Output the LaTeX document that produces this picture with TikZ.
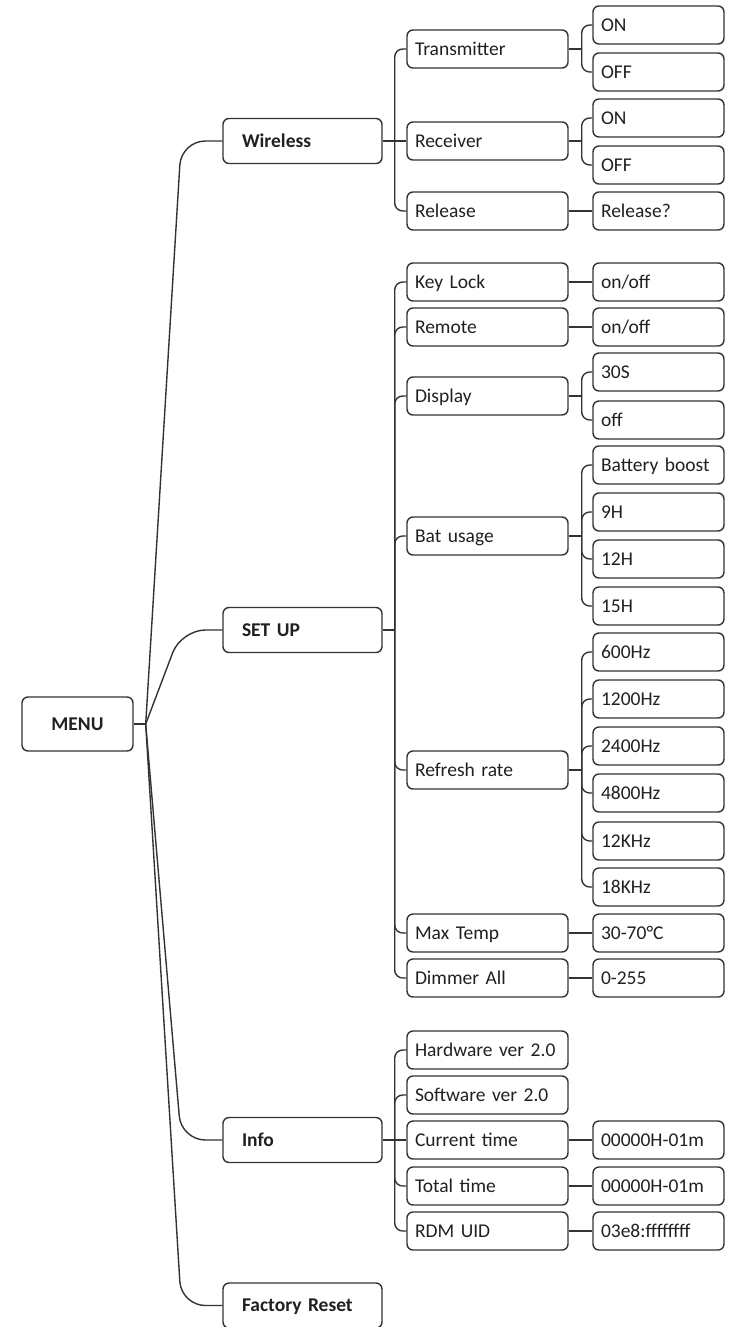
\documentclass[tikz,border=0pt]{standalone}
\usepackage{fontspec}
\setmainfont{Carlito}
\definecolor{ink}{HTML}{333333}
\definecolor{txt}{HTML}{231F20}
\tikzset{
  bx/.style={draw=ink, line width=1.4pt, rounded corners=6pt, text=txt,
    text height=12.8pt, text depth=0pt, font=\fontsize{19.5}{22}\selectfont},
  l0/.style={bx, minimum width=111pt, minimum height=54pt, inner sep=0pt, align=center,
    font=\fontsize{19.5}{22}\selectfont\bfseries},
  l1/.style={bx, text width=121pt, inner xsep=19pt, inner ysep=0pt, minimum height=45pt, align=left,
    font=\fontsize{19.5}{22}\selectfont\bfseries},
  l2/.style={bx, text width=145pt, inner xsep=8pt, inner ysep=0pt, minimum height=38pt, align=left},
  l3/.style={bx, text width=115pt, inner xsep=8pt, inner ysep=0pt, minimum height=38pt, align=left},
  ln/.style={draw=ink, line width=1.4pt},
  br/.style={ln, rounded corners=8pt},
  cv/.style={ln, rounded corners=24pt},
}
\begin{document}
\begin{tikzpicture}[x=1pt,y=-1pt]
\useasboundingbox (0,0) rectangle (740,1327);
% level 0
\node[l0] (menu) at (77.5,724) {MENU};
% level 1
\node[l1] (wl) at (302.5,141) {Wireless};
\node[l1] (su) at (302.5,630) {SET UP};
\node[l1] (inf) at (302.5,1140) {Info};
\node[l1] (fr) at (302.5,1305.5) {Factory Reset};
% level 2
\node[l2] (tx) at (487.5,49) {Transmitter};
\node[l2] (rx) at (487.5,141) {Receiver};
\node[l2] (rl) at (487.5,211) {Release};
\node[l2] (kl) at (487.5,282) {Key Lock};
\node[l2] (rm) at (487.5,327) {Remote};
\node[l2] (dp) at (487.5,396) {Display};
\node[l2] (bu) at (487.5,536) {Bat usage};
\node[l2] (rr) at (487.5,770) {Refresh rate};
\node[l2] (mt) at (487.5,933) {Max Temp};
\node[l2] (da) at (487.5,978) {Dimmer All};
\node[l2] (hw) at (487.5,1050) {\mbox{Hardware ver 2.0}};
\node[l2] (sw) at (487.5,1095) {\mbox{Software ver 2.0}};
\node[l2] (ct) at (487.5,1140) {Current time};
\node[l2] (tt) at (487.5,1186) {Total time};
\node[l2] (rd) at (487.5,1231) {RDM UID};
% level 3
\node[l3] (tx1) at (658.5,25) {ON};
\node[l3] (tx2) at (658.5,72) {OFF};
\node[l3] (rx1) at (658.5,118) {ON};
\node[l3] (rx2) at (658.5,165) {OFF};
\node[l3] (rl1) at (658.5,211) {Release?};
\node[l3] (kl1) at (658.5,282) {on/off};
\node[l3] (rm1) at (658.5,327) {on/off};
\node[l3] (dp1) at (658.5,372) {30S};
\node[l3] (dp2) at (658.5,420) {off};
\node[l3] (bu1) at (658.5,465) {\mbox{Battery boost}};
\node[l3] (bu2) at (658.5,512) {9H};
\node[l3] (bu3) at (658.5,559) {12H};
\node[l3] (bu4) at (658.5,606) {15H};
\node[l3] (rr1) at (658.5,652) {600Hz};
\node[l3] (rr2) at (658.5,699) {1200Hz};
\node[l3] (rr3) at (658.5,746) {2400Hz};
\node[l3] (rr4) at (658.5,793) {4800Hz};
\node[l3] (rr5) at (658.5,841) {12KHz};
\node[l3] (rr6) at (658.5,887) {18KHz};
\node[l3] (mt1) at (658.5,933) {30-70°C};
\node[l3] (da1) at (658.5,978) {0-255};
\node[l3] (ct1) at (658.5,1140) {00000H-01m};
\node[l3] (tt1) at (658.5,1186) {00000H-01m};
\node[l3] (rd1) at (658.5,1231) {03e8:ffffffff};
% menu connectors
\coordinate (m0) at ([xshift=12pt]menu.east);
\draw[ln] (menu.east) -- (m0);
\foreach \n in {wl,su,inf,fr} \draw[cv] (m0) -- ([xshift=-41pt]\n.west) -- (\n.west);
% level 1 -> 2
\coordinate (wlT) at ([xshift=12pt]wl.east);
\draw[ln] (wl.east) -- (wlT);
\draw[ln] (wlT) -- (rx.west);
\foreach \c in {tx,rl} \draw[br] (wlT) |- (\c.west);
\coordinate (suT) at ([xshift=12pt]su.east);
\draw[ln] (su.east) -- (suT);
\foreach \c in {kl,rm,dp,bu,rr,mt,da} \draw[br] (suT) |- (\c.west);
\coordinate (infT) at ([xshift=12pt]inf.east);
\draw[ln] (inf.east) -- (infT);
\draw[ln] (infT) -- (ct.west);
\foreach \c in {hw,sw,tt,rd} \draw[br] (infT) |- (\c.west);
% level 2 -> 3
\coordinate (txT) at ([xshift=13pt]tx.east);
\draw[ln] (tx.east) -- (txT);
\foreach \c in {tx1,tx2} \draw[br] (txT) |- (\c.west);
\coordinate (rxT) at ([xshift=13pt]rx.east);
\draw[ln] (rx.east) -- (rxT);
\foreach \c in {rx1,rx2} \draw[br] (rxT) |- (\c.west);
\coordinate (dpT) at ([xshift=13pt]dp.east);
\draw[ln] (dp.east) -- (dpT);
\foreach \c in {dp1,dp2} \draw[br] (dpT) |- (\c.west);
\coordinate (buT) at ([xshift=13pt]bu.east);
\draw[ln] (bu.east) -- (buT);
\foreach \c in {bu1,bu2,bu3,bu4} \draw[br] (buT) |- (\c.west);
\coordinate (rrT) at ([xshift=13pt]rr.east);
\draw[ln] (rr.east) -- (rrT);
\foreach \c in {rr1,rr2,rr3,rr4,rr5,rr6} \draw[br] (rrT) |- (\c.west);
\draw[ln] (rl.east) -- (rl1.west);
\draw[ln] (kl.east) -- (kl1.west);
\draw[ln] (rm.east) -- (rm1.west);
\draw[ln] (mt.east) -- (mt1.west);
\draw[ln] (da.east) -- (da1.west);
\draw[ln] (ct.east) -- (ct1.west);
\draw[ln] (tt.east) -- (tt1.west);
\draw[ln] (rd.east) -- (rd1.west);
\end{tikzpicture}
\end{document}
